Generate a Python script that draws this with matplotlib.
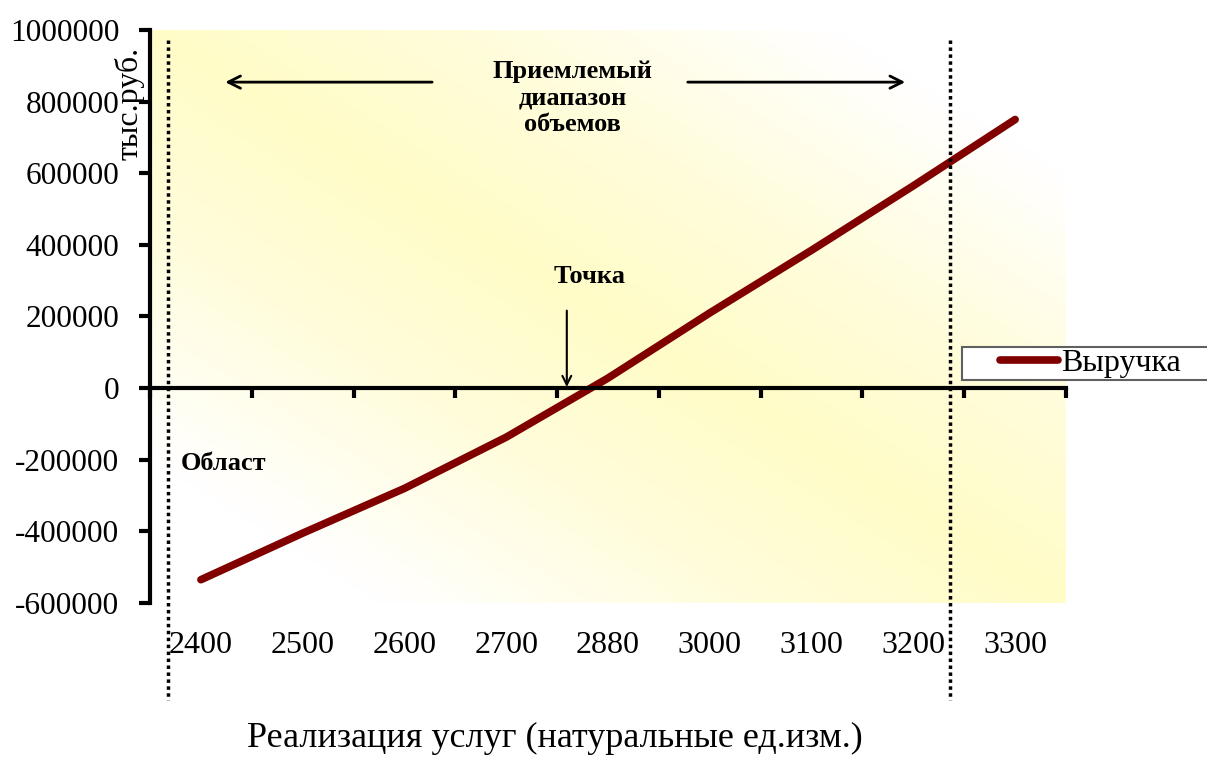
import numpy as np
import matplotlib.pyplot as plt
from matplotlib.colors import LinearSegmentedColormap
from matplotlib.patches import Rectangle

plt.rcParams['font.family'] = ['Liberation Serif', 'DejaVu Serif']

categories = ['2400', '2500', '2600', '2700', '2880', '3000', '3100', '3200', '3300']
revenue = [-535000, -405000, -280000, -137000, 28000, 210000, 385000, 565000, 750000]
y_ticks = [-600000, -400000, -200000, 0, 200000, 400000, 600000, 800000, 1000000]

fig = plt.figure(figsize=(12.07, 7.65), dpi=100)
ax = fig.add_axes([0.1243, 0.2118, 0.7589, 0.749])
x = np.arange(len(categories))
ax.set_xlim(-0.5, len(categories) - 0.5)
ax.set_ylim(y_ticks[0], y_ticks[-1])

# diagonal pale yellow -> white gradient of the plot area
u = np.linspace(0, 1, 400)
v = np.linspace(0, 1, 250)
d = np.abs(u[None, :] - v[:, None])
cmap = LinearSegmentedColormap.from_list(
    'bg', [(0, '#FFFCC8'), (0.35, '#FFFDDC'), (0.75, '#FFFFFF'), (1, '#FFFFFF')])
ax.imshow(d, cmap=cmap, vmin=0, vmax=1, origin='upper', aspect='auto',
          extent=[-0.5, len(categories) - 0.5, y_ticks[0], y_ticks[-1]],
          interpolation='bilinear', zorder=0)

ax.plot(x, revenue, color='#800000', lw=5.5, solid_capstyle='round',
        label='Выручка', zorder=3)

# axes look
ax.spines['top'].set_visible(False)
ax.spines['right'].set_visible(False)
ax.spines['left'].set_linewidth(3)
ax.spines['bottom'].set_position(('data', 0))
ax.spines['bottom'].set_linewidth(3)
ax.spines['bottom'].set_zorder(4)
ax.set_yticks(y_ticks, [str(t) for t in y_ticks])
ax.tick_params(axis='y', length=8, width=3, pad=14, labelsize=22.5)
ax.set_xticks(x)
ax.tick_params(axis='x', which='major', length=0, labelbottom=False)
ax.set_xticks(np.arange(-0.5, len(categories)), minor=True)
ax.tick_params(axis='x', which='minor', length=7, width=3, direction='out')

sec = ax.secondary_xaxis('bottom')
sec.set_xticks(x, categories)
sec.tick_params(length=0, pad=20, labelsize=23)
sec.spines['bottom'].set_visible(False)

fig.text(555 / 1207, 1 - 738 / 765, 'Реализация услуг (натуральные ед.изм.)',
         fontsize=26, ha='center', va='center')
fig.text(130 / 1207, 1 - 103 / 765, 'тыс.руб.', fontsize=23, rotation=90,
         ha='center', va='center')

# acceptable range boundaries
for xa in (0.0197, 0.873):
    ax.plot([xa, xa], [0.9825, -0.169], transform=ax.transAxes, clip_on=False,
            color='black', lw=2.5, linestyle=(0, (1, 1)), zorder=4)

bold = dict(fontsize=19, fontweight='bold', transform=ax.transAxes)
ax.text(0.461, 0.882, 'Приемлемый\nдиапазон\nобъемов', ha='center', va='center',
        linespacing=1.2, **bold)
ax.text(0.480, 0.569, 'Точка', ha='center', va='center', **bold)
ax.text(0.033, 0.244, 'Област', ha='left', va='center', **bold)

arrow = dict(arrowstyle='->', lw=2, color='black', mutation_scale=22)
ax.annotate('', xy=(0.079, 0.909), xytext=(0.311, 0.909),
            xycoords='axes fraction', arrowprops=arrow)
ax.annotate('', xy=(0.8275, 0.909), xytext=(0.584, 0.909),
            xycoords='axes fraction', arrowprops=arrow)
ax.annotate('', xy=(0.455, 0.372), xytext=(0.455, 0.515),
            xycoords='axes fraction',
            arrowprops=dict(arrowstyle='->', lw=1.5, color='black', mutation_scale=16))

# legend box partly cut by the figure edge
fig.add_artist(Rectangle((962 / 1207, 1 - 380 / 765), 260 / 1207, 33 / 765,
                         transform=fig.transFigure, facecolor='white',
                         edgecolor='#606060', lw=1.5, zorder=2))
fig.legend(loc='center left', bbox_to_anchor=(1000 / 1207, 1 - 363 / 765),
           bbox_transform=fig.transFigure, frameon=False, fontsize=23,
           handlelength=1.8, handletextpad=0.1, borderpad=0, borderaxespad=0)

fig.savefig('out.png', dpi=100)
